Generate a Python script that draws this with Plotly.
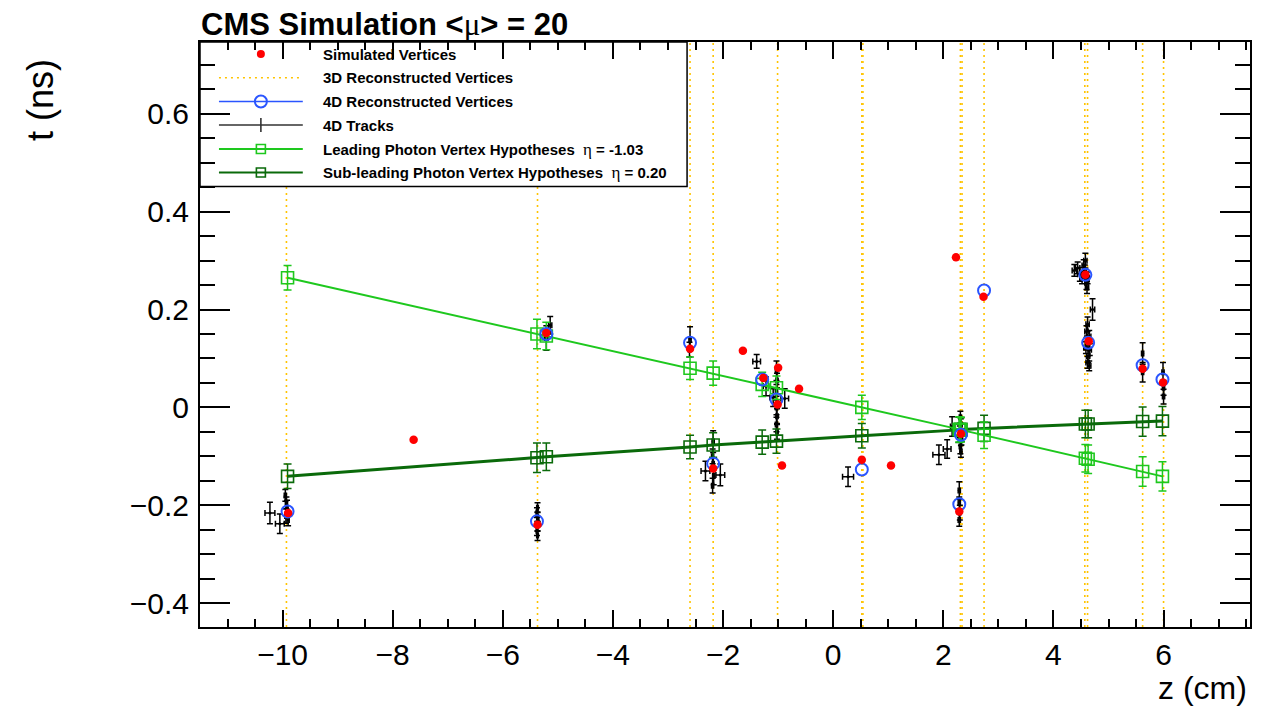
import plotly.graph_objects as go

# ---------------- data ----------------
sim_z = [-9.90, -7.62, -5.37, -5.21, -2.60, -2.18, -1.64, -1.27, -1.00, -1.01, -0.93, -0.62,
         0.52, 1.05, 2.23, 2.29, 2.32, 2.73, 4.58, 4.64, 5.62, 5.99]
sim_t = [-0.216, -0.066, -0.240, 0.152, 0.120, -0.125, 0.116, 0.060, 0.081, 0.006, -0.119, 0.038,
         -0.107, -0.119, 0.307, -0.213, -0.054, 0.226, 0.271, 0.135, 0.079, 0.051]

reco3d_z = [-9.93, -5.37, -2.60, -2.18, -1.01, 0.52, 0.54, 2.31, 2.34, 2.74, 4.57, 4.62, 5.62, 6.00]

reco4d_z = [-9.91, -5.38, -5.21, -2.60, -2.18, -1.29, -1.03, 0.52, 2.29, 2.32, 2.74, 4.58, 4.63, 5.62, 5.98]
reco4d_t = [-0.213, -0.233, 0.150, 0.132, -0.115, 0.057, 0.016, -0.127, -0.198, -0.056, 0.239,
            0.271, 0.132, 0.086, 0.057]

hyp_z = [-9.91, -5.38, -5.21, -2.60, -2.18, -1.29, -1.03, 0.52, 2.29, 2.32, 2.74, 4.58, 4.63, 5.62, 5.98]
lead_t = [0.265, 0.150, 0.146, 0.080, 0.070, 0.047, 0.040, 0.000, -0.045, -0.046, -0.057,
          -0.104, -0.106, -0.131, -0.141]
lead_et = [0.025, 0.030, 0.028, 0.023, 0.025, 0.025, 0.024, 0.025, 0.026, 0.025, 0.027,
           0.028, 0.029, 0.030, 0.030]
sub_t = [-0.141, -0.103, -0.101, -0.081, -0.077, -0.071, -0.069, -0.058, -0.046, -0.045, -0.043,
         -0.034, -0.034, -0.029, -0.028]
sub_et = [0.025, 0.030, 0.028, 0.024, 0.025, 0.025, 0.025, 0.025, 0.026, 0.025, 0.027,
          0.028, 0.028, 0.030, 0.030]

track_z = [-10.23, -10.05, -9.95, -9.93, -9.92, -9.94, -9.90,
           -5.37, -5.38, -5.37, -5.36, -5.37, -5.38, -5.37,
           -5.14, -5.21,
           -2.60, -2.61,
           -2.32, -2.05, -2.18, -2.19, -2.18, -2.17, -2.19,
           -1.39, -1.22,
           -1.03, -1.02, -1.03, -1.09, -0.88, -1.03, -1.02, -1.03, -1.02,
           0.27,
           1.92, 2.07, 2.16, 2.31, 2.32, 2.30, 2.33, 2.31, 2.32,
           2.29, 2.29, 2.30, 2.29,
           4.38, 4.44, 4.48, 4.52, 4.55, 4.58, 4.60, 4.61, 4.57, 4.62,
           4.71, 4.62, 4.60, 4.65, 4.61, 4.59, 4.66, 4.63, 4.62, 4.65,
           5.62, 5.62,
           5.99, 6.00, 6.00]
track_t = [-0.216, -0.238, -0.180, -0.195, -0.205, -0.222, -0.230,
           -0.205, -0.215, -0.224, -0.233, -0.243, -0.252, -0.262,
           0.168, 0.142,
           0.140, 0.118,
           -0.130, -0.138, -0.070, -0.100, -0.115, -0.140, -0.160,
           0.094, 0.043,
           0.075, 0.055, 0.035, 0.020, 0.018, 0.000, -0.018, -0.035, -0.050,
           -0.142,
           -0.097, -0.085, -0.039, -0.020, -0.035, -0.050, -0.065, -0.080, -0.090,
           -0.170, -0.195, -0.215, -0.230,
           0.280, 0.285, 0.272, 0.265, 0.290, 0.300, 0.255, 0.245, 0.278, 0.265,
           0.200, 0.170, 0.155, 0.145, 0.132, 0.122, 0.118, 0.105, 0.092, 0.085,
           0.110, 0.072,
           0.072, 0.040, 0.022]
track_ez = [0.09, 0.08, 0.02, 0.02, 0.02, 0.02, 0.02,
            0.015, 0.015, 0.015, 0.015, 0.015, 0.015, 0.015,
            0.03, 0.03,
            0.02, 0.02,
            0.08, 0.08, 0.02, 0.02, 0.02, 0.02, 0.02,
            0.07, 0.05,
            0.02, 0.02, 0.02, 0.06, 0.07, 0.02, 0.02, 0.02, 0.02,
            0.10,
            0.11, 0.07, 0.03, 0.02, 0.02, 0.02, 0.02, 0.02, 0.02,
            0.02, 0.02, 0.02, 0.02,
            0.04, 0.04, 0.04, 0.04, 0.03, 0.03, 0.03, 0.03, 0.03, 0.03,
            0.04, 0.03, 0.03, 0.03, 0.03, 0.04, 0.03, 0.03, 0.03, 0.03,
            0.02, 0.02,
            0.02, 0.02, 0.02]
track_et = [0.022, 0.020, 0.012, 0.012, 0.015, 0.015, 0.012,
            0.010, 0.010, 0.010, 0.010, 0.010, 0.010, 0.010,
            0.018, 0.025,
            0.025, 0.015,
            0.020, 0.022, 0.022, 0.015, 0.012, 0.018, 0.015,
            0.014, 0.019,
            0.020, 0.015, 0.012, 0.018, 0.020, 0.015, 0.015, 0.015, 0.015,
            0.020,
            0.020, 0.019, 0.020, 0.012, 0.012, 0.012, 0.012, 0.015, 0.012,
            0.018, 0.012, 0.015, 0.013,
            0.012, 0.012, 0.014, 0.012, 0.012, 0.015, 0.014, 0.012, 0.013, 0.012,
            0.022, 0.015, 0.012, 0.012, 0.014, 0.012, 0.012, 0.013, 0.012, 0.010,
            0.022, 0.020,
            0.020, 0.015, 0.015]

legend_labels = [
    "<b>Simulated Vertices</b>",
    "<b>3D Reconstructed Vertices</b>",
    "<b>4D Reconstructed Vertices</b>",
    "<b>4D Tracks</b>",
    "<b>Leading Photon Vertex Hypotheses</b>  <span style='font-family:Liberation Serif;font-size:17px'>η</span><b> = -1.03</b>",
    "<b>Sub-leading Photon Vertex Hypotheses</b>  <span style='font-family:Liberation Serif;font-size:17px'>η</span><b> = 0.20</b>",
]

# ---------------- style ----------------
GOLD = "#ffc400"
BLUE = "#2a55ff"
LGREEN = "#1ec81e"
DGREEN = "#0a6a0a"
RED = "#ff0000"
FONT = "Liberation Sans, Arial, Helvetica, sans-serif"
NARROW = "Liberation Sans Narrow, Arial Narrow, Liberation Sans, Arial, sans-serif"

# page body has an 8px margin: the figure is placed at (8, 8) in the window
OFF = 8
W, H = 1256, 700
ML, MR, MT, MB = 192, 12, 34, 81
PX0, PX1 = ML + OFF, W - MR + OFF        # plot area in window pixels
PY0, PY1 = MT + OFF, H - MB + OFF

fig = go.Figure()

for z in reco3d_z:
    fig.add_vline(x=z, line=dict(color=GOLD, width=1.6, dash="2px,4px"), layer="below")

fig.add_trace(go.Scatter(
    x=track_z, y=track_t, mode="markers",
    marker=dict(size=3, color="black"),
    error_x=dict(type="data", array=track_ez, color="black", thickness=1.5, width=3),
    error_y=dict(type="data", array=track_et, color="black", thickness=1.5, width=3),
    showlegend=False, hoverinfo="skip"))

fig.add_trace(go.Scatter(
    x=hyp_z, y=sub_t, mode="lines+markers",
    line=dict(color=DGREEN, width=3),
    marker=dict(symbol="square-open", size=12, color=DGREEN, line=dict(width=1.6, color=DGREEN)),
    error_y=dict(type="data", array=sub_et, color=DGREEN, thickness=1.5, width=4),
    showlegend=False))

fig.add_trace(go.Scatter(
    x=hyp_z, y=lead_t, mode="lines+markers",
    line=dict(color=LGREEN, width=2),
    marker=dict(symbol="square-open", size=12, color=LGREEN, line=dict(width=1.6, color=LGREEN)),
    error_y=dict(type="data", array=lead_et, color=LGREEN, thickness=1.5, width=4),
    showlegend=False))

fig.add_trace(go.Scatter(
    x=reco4d_z, y=reco4d_t, mode="markers",
    marker=dict(symbol="circle-open", size=12, color=BLUE, line=dict(width=2, color=BLUE)),
    showlegend=False))

fig.add_trace(go.Scatter(
    x=sim_z, y=sim_t, mode="markers",
    marker=dict(size=8.5, color=RED),
    showlegend=False))

# ---------------- legend (drawn on a pixel overlay axis, window pixels) ----------------
LX0, LX1, LY0, LY1 = 200, 688, 42, 186.5
ROWS = [54, 77.7, 101.5, 125, 149, 172.5]
SYM_X0, SYM_X1, SYM_C, TXT_X = 219, 303, 261, 322

fig.add_trace(go.Scatter(
    x=[LX0, LX1, LX1, LX0, LX0], y=[LY0, LY0, LY1, LY1, LY0],
    xaxis="x2", yaxis="y2", mode="lines", fill="toself", fillcolor="white",
    line=dict(color="black", width=1.5), showlegend=False, hoverinfo="skip"))

def leg_line(row, color, width, dash="solid"):
    fig.add_trace(go.Scatter(x=[SYM_X0, SYM_X1], y=[ROWS[row], ROWS[row]], xaxis="x2", yaxis="y2",
                             mode="lines", line=dict(color=color, width=width, dash=dash),
                             showlegend=False, hoverinfo="skip"))

leg_line(1, GOLD, 1.6, "2px,4px")
leg_line(2, BLUE, 1.6)
leg_line(3, "#333333", 1.6)
leg_line(4, LGREEN, 1.8)
leg_line(5, DGREEN, 1.8)

fig.add_trace(go.Scatter(x=[SYM_C], y=[ROWS[0]], xaxis="x2", yaxis="y2", mode="markers",
                         marker=dict(size=8, color=RED), showlegend=False, hoverinfo="skip"))
fig.add_trace(go.Scatter(x=[SYM_C], y=[ROWS[2]], xaxis="x2", yaxis="y2", mode="markers",
                         marker=dict(symbol="circle-open", size=12, color=BLUE, line=dict(width=2, color=BLUE)),
                         showlegend=False, hoverinfo="skip"))
fig.add_trace(go.Scatter(x=[SYM_C], y=[ROWS[3]], xaxis="x2", yaxis="y2", mode="markers",
                         marker=dict(size=1, color="#333333"),
                         error_y=dict(type="constant", value=7, color="#333333", thickness=1.6, width=0),
                         showlegend=False, hoverinfo="skip"))
fig.add_trace(go.Scatter(x=[SYM_C], y=[ROWS[4]], xaxis="x2", yaxis="y2", mode="markers",
                         marker=dict(symbol="square-open", size=9, color=LGREEN, line=dict(width=1.6, color=LGREEN)),
                         showlegend=False, hoverinfo="skip"))
fig.add_trace(go.Scatter(x=[SYM_C], y=[ROWS[5]], xaxis="x2", yaxis="y2", mode="markers",
                         marker=dict(symbol="square-open", size=9, color=DGREEN, line=dict(width=1.6, color=DGREEN)),
                         showlegend=False, hoverinfo="skip"))

annotations = []
for row, lab in zip(ROWS, legend_labels):
    annotations.append(dict(text=lab, xref="x2", yref="y2", x=TXT_X, y=row, xanchor="left",
                            yanchor="middle", showarrow=False, borderpad=0,
                            font=dict(family=FONT, size=15, color="black")))

annotations.append(dict(
    text="<b>CMS Simulation &lt;</b><span style='font-family:Liberation Serif'>μ</span><b>&gt; = 20</b>",
    xref="paper", yref="paper", x=0, y=1, xanchor="left", yanchor="bottom", yshift=-1,
    borderpad=0, showarrow=False, font=dict(family=FONT, size=31, color="black")))
annotations.append(dict(
    text="t (ns)", textangle=-90, xref="paper", yref="paper", x=0, y=1,
    xanchor="center", yanchor="top", xshift=-160, yshift=-16, showarrow=False, borderpad=0,
    font=dict(family=FONT, size=36, color="black")))
annotations.append(dict(
    text="z (cm)", xref="paper", yref="paper", x=1, y=0,
    xanchor="right", yanchor="bottom", xshift=-2, yshift=-(MB - 1), showarrow=False, borderpad=0,
    font=dict(family=FONT, size=32, color="black")))

axis_common = dict(showgrid=False, zeroline=False, showline=True, linecolor="black", linewidth=2,
                   mirror="ticks", ticks="inside", tickcolor="black", tickwidth=1.5,
                   color="black")

fig.update_layout(
    width=W, height=H, autosize=False,
    margin=dict(l=ML, r=MR, t=MT, b=MB, pad=0),
    paper_bgcolor="white", plot_bgcolor="white",
    font=dict(family=FONT, color="black"),
    showlegend=False,
    xaxis=dict(range=[-11.5, 7.57], tick0=0, dtick=2, ticklen=17,
               minor=dict(ticks="inside", ticklen=8, dtick=0.5, tickcolor="black", tickwidth=1.5),
               ticklabelstandoff=0,
               tickfont=dict(family=NARROW, size=30, color="black"), **axis_common),
    yaxis=dict(range=[-0.449, 0.747], tick0=0, dtick=0.2, ticklen=30,
               minor=dict(ticks="inside", ticklen=15, dtick=0.05, tickcolor="black", tickwidth=1.5),
               ticklabelstandoff=3,
               tickfont=dict(family=FONT, size=30, color="black"), **axis_common),
    xaxis2=dict(overlaying="x", anchor="y2", range=[PX0, PX1], visible=False, fixedrange=True),
    yaxis2=dict(overlaying="y", anchor="x2", range=[PY1, PY0], visible=False, fixedrange=True),
    annotations=annotations,
)

fig.write_html("out.html")
